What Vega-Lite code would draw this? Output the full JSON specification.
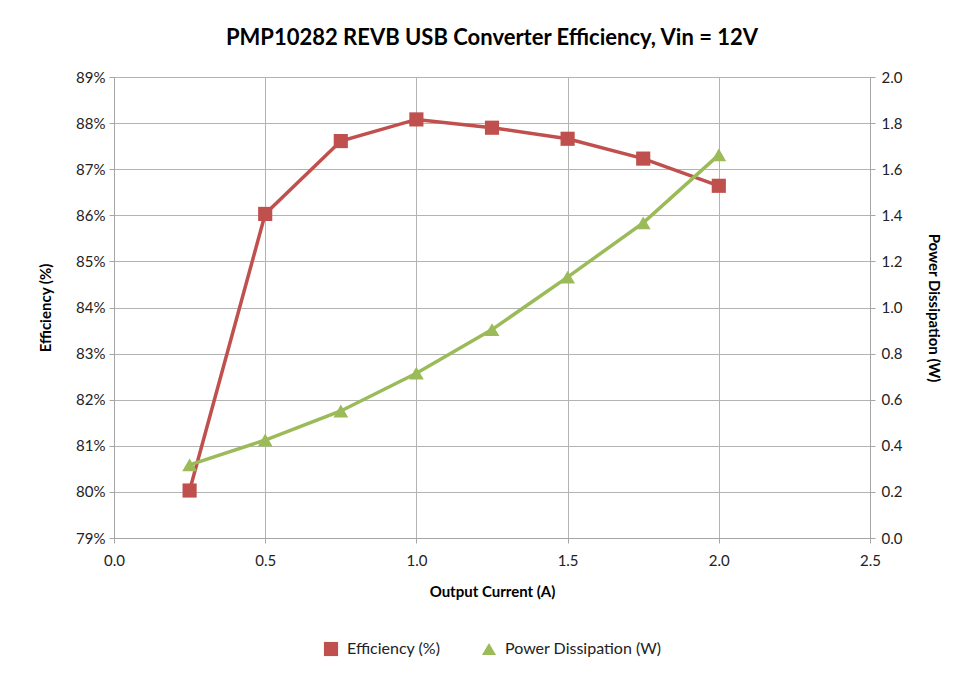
{
  "$schema": "https://vega.github.io/schema/vega-lite/v6.json",
  "autosize": "none",
  "padding": {"left": 114, "top": 77, "right": 86, "bottom": 137},
  "width": 756,
  "height": 461,
  "background": "white",
  "title": {
    "text": "PMP10282 REVB USB Converter Efficiency, Vin = 12V",
    "font": "Lato",
    "fontSize": 22,
    "fontWeight": "bold",
    "color": "#000000",
    "anchor": "middle",
    "offset": 20
  },
  "config": {
    "font": "Lato",
    "view": {"stroke": null},
    "axis": {
      "labelFont": "Lato",
      "labelFontSize": 15,
      "labelColor": "#222222",
      "titleFont": "Lato",
      "titleFontSize": 15,
      "titleFontWeight": "bold",
      "titleColor": "#000000",
      "domainColor": "#a6a6a6",
      "tickColor": "#a6a6a6",
      "gridColor": "#b3b3b3",
      "tickSize": 5
    },
    "legend": {
      "labelFont": "Lato",
      "labelFontSize": 16,
      "labelColor": "#222222",
      "layout": {"bottom": {"anchor": "middle"}}
    }
  },
  "data": {
    "values": [
      {"current": 0.25, "efficiency": 0.8003, "power": 0.317},
      {"current": 0.5, "efficiency": 0.8603, "power": 0.425},
      {"current": 0.75, "efficiency": 0.8761, "power": 0.551},
      {"current": 1.0, "efficiency": 0.8808, "power": 0.715},
      {"current": 1.25, "efficiency": 0.879, "power": 0.904},
      {"current": 1.5, "efficiency": 0.8766, "power": 1.132},
      {"current": 1.75, "efficiency": 0.8723, "power": 1.367},
      {"current": 2.0, "efficiency": 0.8664, "power": 1.662}
    ]
  },
  "encoding": {
    "x": {
      "field": "current",
      "type": "quantitative",
      "scale": {"domain": [0, 2.5], "nice": false},
      "axis": {
        "title": "Output Current (A)",
        "values": [0, 0.5, 1, 1.5, 2, 2.5],
        "format": ".1f",
        "labelFlush": false,
        "labelPadding": 10,
        "titlePadding": 16
      }
    }
  },
  "layer": [
    {
      "encoding": {
        "y": {
          "field": "efficiency",
          "type": "quantitative",
          "scale": {"domain": [0.79, 0.89], "nice": false, "zero": false},
          "axis": {
            "title": "Efficiency (%)",
            "orient": "left",
            "values": [0.79, 0.8, 0.81, 0.82, 0.83, 0.84, 0.85, 0.86, 0.87, 0.88, 0.89],
            "format": ".0%",
            "labelFlush": false,
            "labelPadding": 4,
            "titlePadding": 22
          }
        },
        "color": {
          "datum": "Efficiency (%)",
          "scale": {"domain": ["Efficiency (%)", "Power Dissipation (W)"], "range": ["#C0504D", "#9BBB59"]},
          "legend": {
            "title": null,
            "orient": "bottom",
            "direction": "horizontal",
            "offset": 42,
            "symbolSize": 200,
            "symbolStrokeWidth": 0,
            "symbolOffset": 0,
            "labelOffset": 8,
            "columnPadding": 40
          }
        },
        "shape": {
          "datum": "Efficiency (%)",
          "scale": {"domain": ["Efficiency (%)", "Power Dissipation (W)"], "range": ["square", "triangle-up"]},
          "legend": null
        }
      },
      "layer": [
        {"mark": {"type": "line", "strokeWidth": 3.5, "color": "#C0504D"}},
        {"mark": {"type": "point", "filled": true, "opacity": 1, "size": 200}}
      ]
    },
    {
      "encoding": {
        "y": {
          "field": "power",
          "type": "quantitative",
          "scale": {"domain": [0, 2], "nice": false},
          "axis": {
            "title": "Power Dissipation (W)",
            "orient": "right",
            "grid": false,
            "values": [0, 0.2, 0.4, 0.6, 0.8, 1.0, 1.2, 1.4, 1.6, 1.8, 2.0],
            "format": ".1f",
            "labelFlush": false,
            "labelPadding": 6,
            "titlePadding": 24
          }
        },
        "color": {"datum": "Power Dissipation (W)"},
        "shape": {"datum": "Power Dissipation (W)"}
      },
      "layer": [
        {"mark": {"type": "line", "strokeWidth": 3.5, "color": "#9BBB59"}},
        {"mark": {"type": "point", "filled": true, "opacity": 1, "size": 220}}
      ]
    }
  ],
  "resolve": {"scale": {"y": "independent"}}
}
